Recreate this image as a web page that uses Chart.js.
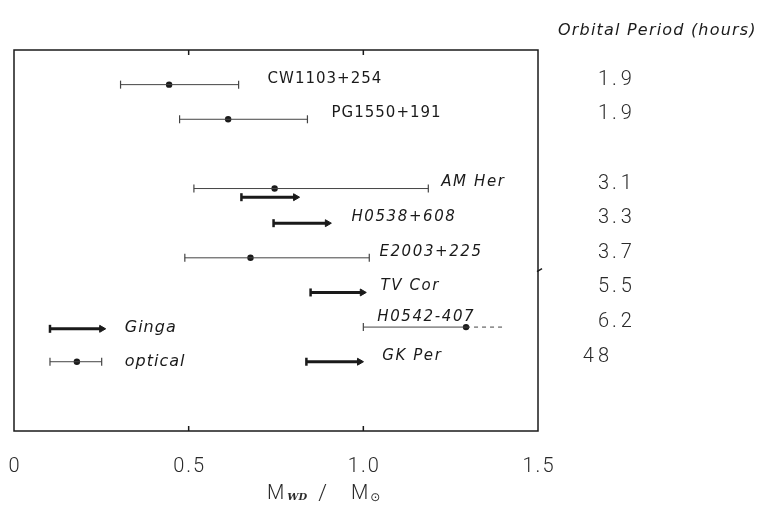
<!DOCTYPE html>
<html>
<head>
  <title>White dwarf masses</title>
  <script src="https://cdn.jsdelivr.net/npm/chart.js"></script>
  <style>
    body { margin: 0; background: #fff; }
    #wrap { width: 764px; height: 507px; }
  </style>
</head>
<body>
  <div id="wrap"><canvas id="chart"></canvas></div>

  <script>
    // systems, one row each (row index on the y axis, top to bottom)
    const systems = ['CW1103+254', 'PG1550+191', 'AM Her', 'H0538+608', 'E2003+225', 'TV Cor', 'H0542-407', 'GK Per'];
    const rowY = [1, 2, 4, 5, 6, 7, 8, 9];
    const periods = ['1.9', '1.9', '3.1', '3.3', '3.7', '5.5', '6.2', '48'];

    // optical estimates: lower limit, best value, upper limit
    const opticalLo = [0.305, 0.474, 0.515, null, 0.489, null, 1.00, null];
    const opticalMid = [0.444, 0.613, 0.746, null, 0.677, null, 1.294, null];
    const opticalHi = [0.643, 0.84, 1.186, null, 1.017, null, 1.40, null];
    const opticalOpenEnded = [false, false, false, false, false, false, true, false];

    // Ginga lower limits (arrows)
    const gingaLo = [null, null, 0.651, 0.743, null, 0.849, null, 0.837];
    const gingaHi = [null, null, 0.806, 0.897, null, 0.997, null, 0.989];
    const gingaY = [null, null, 4.25, 5, null, 7, null, 9];

    // legend samples
    const legendLo = 0.103, legendMid = 0.18, legendHi = 0.251;
    const legendGingaY = 8.05, legendOpticalY = 9;

    const xTicks = [0, 0.5, 1.0, 1.5];
    const xTickText = ['0', '0.5', '1.0', '1.5'];

    // where the names are written (left edge, in M_WD units)
    const nameX = [0.726, 0.909, 1.223, 0.966, 1.046, 1.049, 1.04, 1.054];
    const nameItalic = [false, false, true, true, true, true, true, true];

    const ink = '#1a1a1a';
    const thin = '#444';
    const soft = '#2a2a2a';

    const datasets = [];

    function opticalSet(lo, hi, y, openEnded) {
      datasets.push({
        data: [{ x: lo, y: y }, { x: hi, y: y }],
        showLine: true,
        borderColor: thin,
        borderWidth: 1,
        pointStyle: 'line',
        pointRotation: 90,
        pointRadius: openEnded ? [4, 0] : 4,
        pointBorderWidth: 1.2,
        pointBorderColor: thin
      });
    }

    function dashedSet(lo, hi, y) {
      datasets.push({
        data: [{ x: lo, y: y }, { x: hi, y: y }],
        showLine: true,
        borderColor: thin,
        borderWidth: 1,
        borderDash: [4, 4],
        pointRadius: 0
      });
    }

    function gingaSet(lo, hi, y) {
      datasets.push({
        data: [{ x: lo, y: y }, { x: hi, y: y }],
        showLine: true,
        borderColor: ink,
        borderWidth: 3,
        pointStyle: ['line', 'triangle'],
        pointRotation: 90,
        pointRadius: [4, 4],
        pointBorderWidth: [2.5, 1],
        pointBorderColor: ink,
        pointBackgroundColor: ink
      });
    }

    const mids = [];
    systems.forEach((s, i) => {
      if (opticalLo[i] !== null) {
        if (opticalOpenEnded[i]) {
          opticalSet(opticalLo[i], opticalMid[i], rowY[i], true);
          dashedSet(opticalMid[i], opticalHi[i], rowY[i]);
        } else {
          opticalSet(opticalLo[i], opticalHi[i], rowY[i], false);
        }
        mids.push({ x: opticalMid[i], y: rowY[i] });
      }
      if (gingaLo[i] !== null) gingaSet(gingaLo[i], gingaHi[i], gingaY[i]);
    });

    gingaSet(legendLo, legendHi, legendGingaY);
    opticalSet(legendLo, legendHi, legendOpticalY, false);
    mids.push({ x: legendMid, y: legendOpticalY });

    datasets.push({
      data: mids,
      showLine: false,
      pointStyle: 'circle',
      pointRadius: 3.2,
      pointBackgroundColor: ink,
      pointBorderColor: ink,
      pointBorderWidth: 0
    });

    // frame, inner ticks, names, periods and axis title
    const annotations = {
      id: 'annotations',
      afterDraw(chart) {
        const ctx = chart.ctx;
        const a = chart.chartArea;
        const xs = chart.scales.x, ys = chart.scales.y;
        ctx.save();
        ctx.strokeStyle = ink;
        ctx.lineWidth = 1.5;
        ctx.strokeRect(a.left, a.top, a.right - a.left, a.bottom - a.top);
        [0.5, 1.0].forEach(v => {
          const px = xs.getPixelForValue(v);
          ctx.beginPath();
          ctx.moveTo(px, a.top); ctx.lineTo(px, a.top + 5);
          ctx.moveTo(px, a.bottom); ctx.lineTo(px, a.bottom - 5);
          ctx.stroke();
        });
        // small nick on the right frame
        const ny = ys.getPixelForValue(6.4);
        ctx.beginPath();
        ctx.moveTo(a.right - 1, ny); ctx.lineTo(a.right + 4, ny - 3);
        ctx.stroke();

        ctx.fillStyle = ink;
        ctx.textBaseline = 'middle';
        ctx.textAlign = 'left';
        systems.forEach((s, i) => {
          ctx.letterSpacing = nameItalic[i] ? '1.6px' : '1px';
          ctx.font = (nameItalic[i] ? 'italic ' : '') + '15px "DejaVu Sans"';
          const off = s === 'H0542-407' ? -10 : -6;
          ctx.fillText(s, xs.getPixelForValue(nameX[i]), ys.getPixelForValue(rowY[i]) + off);
        });

        ctx.letterSpacing = '1px';
        ctx.font = 'italic 16px "DejaVu Sans"';
        ctx.fillText('Ginga', xs.getPixelForValue(0.317), ys.getPixelForValue(legendGingaY) - 1);
        ctx.fillText('optical', xs.getPixelForValue(0.317), ys.getPixelForValue(legendOpticalY));

        // orbital periods, lined up on the decimal point
        ctx.fillStyle = soft;
        ctx.font = '300 20px Roboto, "DejaVu Sans"';
        ctx.letterSpacing = '4px';
        periods.forEach((p, i) => {
          const y = ys.getPixelForValue(rowY[i]) - 5;
          const parts = p.split('.');
          ctx.textAlign = 'right';
          ctx.fillText(parts[0], 613, y);
          if (parts[1]) {
            ctx.textAlign = 'left';
            ctx.fillText('.' + parts[1], 612, y);
          }
        });
        ctx.fillStyle = ink;
        ctx.letterSpacing = '1.2px';
        ctx.textAlign = 'left';
        ctx.font = 'italic 16px "DejaVu Sans"';
        ctx.fillText('Orbital Period (hours)', 558, 31);

        // axis title M_WD / M_sun
        ctx.fillStyle = soft;
        ctx.letterSpacing = '0px';
        let x = 267;
        const y = 494;
        ctx.font = '300 20px Roboto, "DejaVu Sans"';
        ctx.fillText('M', x, y); x += ctx.measureText('M').width + 3;
        ctx.font = 'italic bold 10px "DejaVu Serif"';
        ctx.fillText('WD', x, y + 3); x += ctx.measureText('WD').width + 11;
        ctx.font = '300 22px Roboto, "DejaVu Sans"';
        ctx.fillText('/', x, y); x += ctx.measureText('/').width + 24;
        ctx.font = '300 20px Roboto, "DejaVu Sans"';
        ctx.fillText('M', x, y); x += ctx.measureText('M').width + 2;
        ctx.font = '12px "DejaVu Sans"';
        ctx.fillText('\u2299', x, y + 4);
        ctx.restore();
      }
    };

    new Chart(document.getElementById('chart'), {
      type: 'scatter',
      data: { datasets: datasets },
      options: {
        responsive: true,
        maintainAspectRatio: false,
        animation: false,
        layout: { padding: { left: 14, right: 226, top: 50, bottom: 28 } },
        plugins: { legend: { display: false }, tooltip: { enabled: false } },
        scales: {
          x: {
            type: 'linear',
            min: 0,
            max: 1.5,
            afterBuildTicks: axis => { axis.ticks = xTicks.map(v => ({ value: v })); },
            // tick marks are hidden; tickLength only sets the gap above the labels
            grid: { display: false, drawTicks: true, tickLength: 24 },
            border: { display: false },
            ticks: {
              padding: 0,
              maxRotation: 0,
              minRotation: 0,
              autoSkip: false,
              color: soft,
              font: { family: 'Roboto, "DejaVu Sans"', size: 20, weight: '300' },
              callback: (v, i) => xTickText[i].split('').join('\u200A')
            }
          },
          y: {
            type: 'linear',
            min: 0,
            max: 11,
            reverse: true,
            display: false
          }
        }
      },
      plugins: [annotations]
    });
  </script>
</body>
</html>
